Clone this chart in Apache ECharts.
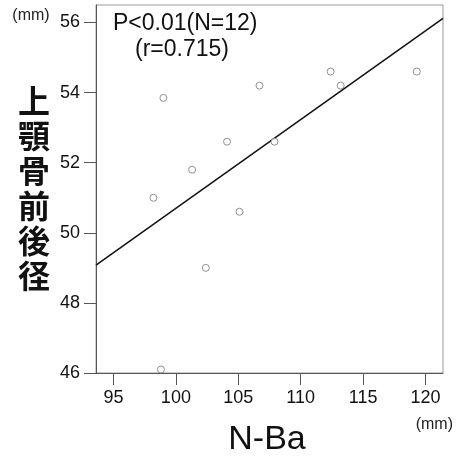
<!DOCTYPE html>
<html>
<head>
<meta charset="utf-8">
<script src="https://cdn.jsdelivr.net/npm/echarts@6/dist/echarts.min.js"></script>
<style>
  html, body { margin: 0; padding: 0; background: #fff; }
  #chart { width: 463px; height: 459px; }
</style>
</head>
<body>
<div id="chart"></div>
<script>
// N-Ba (mm) against anterior-posterior maxillary length (mm)
const nBa = [98.2, 101.3, 104.1, 107.9, 105.1, 102.4, 99.0, 106.7, 112.4, 113.2, 119.3, 98.8];
const maxillaLength = [51.0, 51.8, 52.6, 52.6, 50.6, 49.0, 53.85, 54.2, 54.6, 54.2, 54.6, 46.1];

// regression line end points
const fitX = [93.6, 121.4];
const fitY = [49.08, 56.12];

const xTicks = [95, 100, 105, 110, 115, 120];
const yTicks = [46, 48, 50, 52, 54, 56];

const yTitle = ['上', '顎', '骨', '前', '後', '径'];
const xTitle = 'N-Ba';
const statLine1 = 'P<0.01(N=12)';
const statLine2 = '(r=0.715)';
const unit = '(mm)';

const numFont = '"Liberation Sans", Arial, sans-serif';

const chart = echarts.init(document.getElementById('chart'), null, { renderer: 'canvas' });

chart.setOption({
  animation: false,
  backgroundColor: '#fff',
  grid: {
    left: 96, right: 20, top: 5, bottom: 86,
    show: true, borderColor: '#9a9a9a', borderWidth: 1, backgroundColor: 'transparent'
  },
  xAxis: {
    type: 'value', min: 93.6, max: 121.4,
    axisLine: { show: true, lineStyle: { color: '#555', width: 1 } },
    axisTick: { show: true, inside: false, length: 12, customValues: xTicks, lineStyle: { color: '#555' } },
    axisLabel: { customValues: xTicks, margin: 16, color: '#111', fontSize: 18, fontFamily: numFont },
    splitLine: { show: false }
  },
  yAxis: {
    type: 'value', min: 46, max: 56.5,
    axisLine: { show: true, lineStyle: { color: '#555', width: 1 } },
    axisTick: { show: true, inside: false, length: 12, customValues: yTicks, lineStyle: { color: '#555' } },
    axisLabel: { customValues: yTicks, margin: 16, color: '#111', fontSize: 18, fontFamily: numFont },
    splitLine: { show: false }
  },
  series: [
    {
      type: 'line',
      data: fitX.map((x, i) => [x, fitY[i]]),
      symbol: 'none',
      lineStyle: { color: '#111', width: 1.5 },
      z: 2
    },
    {
      type: 'scatter',
      data: nBa.map((x, i) => [x, maxillaLength[i]]),
      symbol: 'circle',
      symbolSize: 7,
      itemStyle: { color: '#fff', borderColor: '#777', borderWidth: 1 },
      z: 3
    }
  ],
  graphic: [
    {
      type: 'text', x: 31, y: 16,
      style: { text: unit, fontSize: 16, fontFamily: numFont, fill: '#222', align: 'center', verticalAlign: 'middle' }
    },
    {
      type: 'text', x: 34, y: 188,
      style: {
        text: yTitle.join('\n'), fontSize: 32, lineHeight: 35, fontWeight: 'bold',
        fontFamily: '"Noto Sans CJK JP", sans-serif', fill: '#111',
        align: 'center', verticalAlign: 'middle'
      }
    },
    {
      type: 'text', x: 113, y: 24,
      style: { text: statLine1, fontSize: 23, fontFamily: numFont, fill: '#111', align: 'left', verticalAlign: 'middle' }
    },
    {
      type: 'text', x: 135, y: 50,
      style: { text: statLine2, fontSize: 23, fontFamily: numFont, fill: '#111', align: 'left', verticalAlign: 'middle' }
    },
    {
      type: 'text', x: 453, y: 425,
      style: { text: unit, fontSize: 16, fontFamily: numFont, fill: '#222', align: 'right', verticalAlign: 'middle' }
    },
    {
      type: 'text', x: 267, y: 440,
      style: { text: xTitle, fontSize: 34, fontFamily: numFont, fill: '#111', align: 'center', verticalAlign: 'middle' }
    }
  ]
});
</script>
</body>
</html>
